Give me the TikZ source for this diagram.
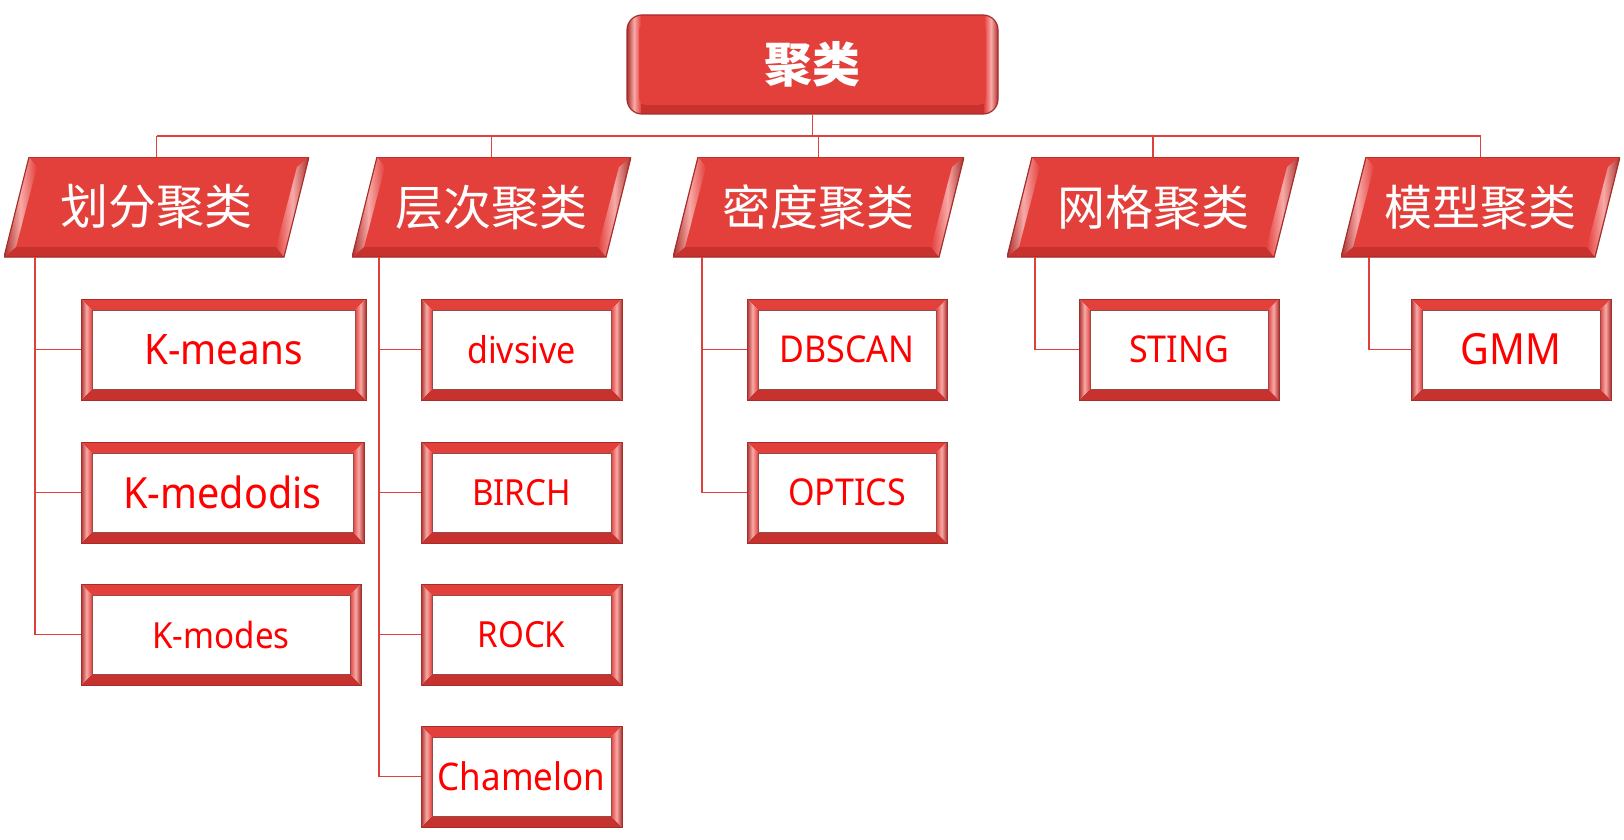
\documentclass[tikz,border=0pt]{standalone}
\usepackage{fontspec}
\newfontfamily\cjk{Noto Sans CJK SC}
\newfontfamily\latin[FakeStretch=0.92]{Noto Sans}
\usetikzlibrary{calc}
\definecolor{mainred}{RGB}{227,64,59}
\definecolor{darkedge}{RGB}{165,45,42}
\definecolor{botface}{RGB}{200,50,46}
\definecolor{hilite}{RGB}{248,170,168}
\definecolor{linecol}{RGB}{224,64,60}
\definecolor{textred}{RGB}{255,0,0}
\definecolor{innerborder}{RGB}{150,75,75}
\tikzset{
  corners/.code={},
  leaf/.style={minimum height=101pt, inner sep=0pt, text=textred, draw=darkedge, line width=1pt,
    path picture={
      \path (path picture bounding box.north west) coordinate (A)
            (path picture bounding box.north east) coordinate (B)
            (path picture bounding box.south east) coordinate (C)
            (path picture bounding box.south west) coordinate (D);
      \path ([shift={(11pt,-11pt)}]A) coordinate (a)
            ([shift={(-11pt,-11pt)}]B) coordinate (b)
            ([shift={(-11pt,11pt)}]C) coordinate (c)
            ([shift={(11pt,11pt)}]D) coordinate (d);
      \fill[mainred] (A)--(B)--(b)--(a)--cycle;
      \fill[botface] (D)--(C)--(c)--(d)--cycle;
      \shade[left color=mainred!75!black, right color=mainred, middle color=hilite] (A)--(a)--(d)--(D)--cycle;
      \shade[left color=mainred, right color=mainred!75!black, middle color=hilite] (B)--(b)--(c)--(C)--cycle;
      \filldraw[fill=white, draw=innerborder, line width=1pt] (a) rectangle (c);
    }},
  cat/.style={minimum height=100pt, inner sep=0pt, text=white, font=\cjk\fontsize{48}{48}\selectfont,
    path picture={
      \path (path picture bounding box.north west) coordinate (A)
            (path picture bounding box.north east) coordinate (B)
            (path picture bounding box.south east) coordinate (C)
            (path picture bounding box.south west) coordinate (D);
      \path ([xshift=25pt]A) coordinate (P1) (B) coordinate (P2)
            ([xshift=-25pt]C) coordinate (P3) (D) coordinate (P4);
      \path ([shift={(33pt,-10pt)}]A) coordinate (i1)
            ([shift={(-12pt,-10pt)}]B) coordinate (i2)
            ([shift={(-33pt,10pt)}]C) coordinate (i3)
            ([shift={(12pt,10pt)}]D) coordinate (i4);
      \fill[mainred] (P1)--(P2)--(P3)--(P4)--cycle;
      \fill[botface] (P4)--(P3)--(i3)--(i4)--cycle;
      \shade[left color=mainred!75!black, right color=mainred, middle color=hilite] (P1)--(i1)--(i4)--(P4)--cycle;
      \shade[left color=mainred, right color=mainred!75!black, middle color=hilite] (P2)--(P3)--(i3)--(i2)--cycle;
      \draw[darkedge, line width=1.2pt] (P1)--(P2)--(P3)--(P4)--cycle;
    }},
  topbox/.style={minimum width=371pt, minimum height=99pt, inner sep=0pt, rounded corners=15pt,
    fill=mainred, draw=darkedge, line width=1.2pt, text=white,
    font=\cjk\bfseries\fontsize{48}{48}\selectfont,
    path picture={
      \path (path picture bounding box.north west) coordinate (A)
            (path picture bounding box.north east) coordinate (B)
            (path picture bounding box.south east) coordinate (C)
            (path picture bounding box.south west) coordinate (D);
      \fill[botface, sharp corners] ([yshift=10pt]D) rectangle (C);
      \shade[sharp corners, left color=mainred!75!black, right color=mainred, middle color=hilite] (A) rectangle ([xshift=14pt]D);
      \shade[sharp corners, left color=mainred, right color=mainred!75!black, middle color=hilite] ([xshift=-14pt]B) rectangle (C);
      \fill[mainred, rounded corners=8pt] ([shift={(12pt,-8pt)}]A) rectangle ([shift={(-12pt,9pt)}]C);
    }},
  conn/.style={draw=linecol, line width=1.8pt}
}
\newcommand{\fs}[1]{\latin\fontsize{#1}{#1}\selectfont}
\begin{document}
\begin{tikzpicture}[x=1pt,y=-1pt]
\useasboundingbox (0,0) rectangle (1624,840);

% connectors first (under nodes)
\coordinate (bus) at (812.5,136);

\node[topbox] (top) at (812.5,64.5) {聚类};

\node[cat, minimum width=305pt] (c1) at (156.5,207) {划分聚类};
\node[cat, minimum width=279pt] (c2) at (491.5,207) {层次聚类};
\node[cat, minimum width=291pt] (c3) at (818.5,207) {密度聚类};
\node[cat, minimum width=292pt] (c4) at (1153,207) {网格聚类};
\node[cat, minimum width=279pt] (c5) at (1480.5,207) {模型聚类};

\node[leaf, minimum width=285pt, font=\fs{42}] (k1) at (223.5,349.5) {K-means};
\node[leaf, minimum width=283pt, font=\fs{43}] (k2) at (222.5,492.5) {K-medodis};
\node[leaf, minimum width=280pt, font=\fs{36}] (k3) at (221,634.5) {K-modes};

\node[leaf, minimum width=201pt, font=\fs{37}] (h1) at (521.5,349.5) {divsive};
\node[leaf, minimum width=201pt, font=\fs{36}] (h2) at (521.5,492.5) {BIRCH};
\node[leaf, minimum width=201pt, font=\fs{36}] (h3) at (521.5,634.5) {ROCK};
\node[leaf, minimum width=201pt, font=\fs{38}] (h4) at (521.5,776.5) {Chamelon};

\node[leaf, minimum width=200pt, font=\fs{37}] (d1) at (847,349.5) {DBSCAN};
\node[leaf, minimum width=200pt, font=\fs{37}] (d2) at (847,492.5) {OPTICS};

\node[leaf, minimum width=200pt, font=\fs{37}] (g1) at (1179,349.5) {STING};

\node[leaf, minimum width=200pt, font=\fs{43}] (m1) at (1511,349.5) {GMM};

\begin{scope}[conn]
\draw (top.south) -- (bus);
\draw (c1.north |- bus) -- (c5.north |- bus);
\foreach \c in {c1,c2,c3,c4,c5} \draw (\c.north |- bus) -- (\c.north);
\draw ([xshift=31pt]c1.south west) |- (k1.west);
\draw ([xshift=31pt]c1.south west) |- (k2.west);
\draw ([xshift=31pt]c1.south west) |- (k3.west);
\draw ([xshift=27pt]c2.south west) |- (h1.west);
\draw ([xshift=27pt]c2.south west) |- (h2.west);
\draw ([xshift=27pt]c2.south west) |- (h3.west);
\draw ([xshift=27pt]c2.south west) |- (h4.west);
\draw ([xshift=29pt]c3.south west) |- (d1.west);
\draw ([xshift=29pt]c3.south west) |- (d2.west);
\draw ([xshift=28pt]c4.south west) |- (g1.west);
\draw ([xshift=28pt]c5.south west) |- (m1.west);
\end{scope}
\end{tikzpicture}
\end{document}
